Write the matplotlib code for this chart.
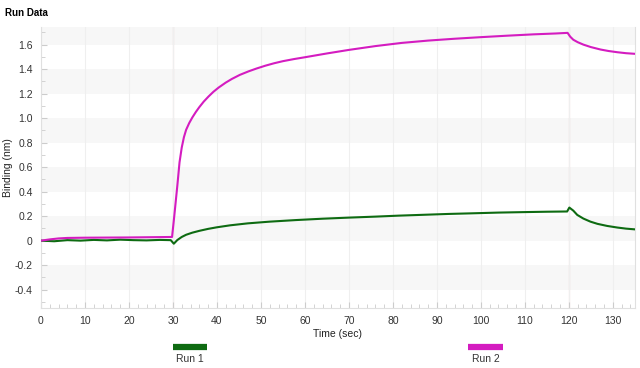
import matplotlib
matplotlib.use("Agg")
import matplotlib.pyplot as plt
from matplotlib.lines import Line2D
from matplotlib.ticker import MultipleLocator, FuncFormatter

plt.rcParams['font.family'] = ['Liberation Sans', 'DejaVu Sans']

# Run 1 (green)
run1_time = [0, 3, 6, 9, 12, 15, 18, 21, 24, 27, 29.5, 30.2, 31, 32, 33, 34.4, 36,
             38, 40, 43, 47, 52, 58, 64, 70, 76, 81.3, 87, 92.7, 98, 104, 110,
             115, 119.6, 120.1, 121, 121.9, 123.3, 124.9, 126.5, 128.7, 131, 133, 135]
run1_vals = [0.0, -0.005, 0.004, 0.0, 0.006, 0.002, 0.008, 0.004, 0.002, 0.006, 0.004, -0.025, 0.005, 0.03, 0.048, 0.065, 0.08,
             0.096, 0.109, 0.125, 0.141, 0.155, 0.168, 0.179, 0.188, 0.196, 0.204, 0.211, 0.218, 0.223, 0.229, 0.233,
             0.236, 0.238, 0.27, 0.245, 0.21, 0.18, 0.155, 0.137, 0.12, 0.107, 0.098, 0.092]

# Run 2 (magenta)
run2_time = [0, 2, 4, 6, 10, 15, 20, 25, 29.8, 30.3, 31, 31.5, 32, 32.5, 33, 33.7, 34.4,
             35.2, 36, 37, 38.1, 39.2, 40.4, 42, 43.4, 45.2, 47.2, 49, 51, 53, 55, 57.5, 60,
             65, 70, 76, 82, 88, 94, 100, 106, 112, 117, 119.7,
             120.3, 121, 122, 123.3, 125, 127.2, 129, 131, 133, 135]
run2_vals = [0.0, 0.01, 0.018, 0.022, 0.024, 0.025, 0.026, 0.028, 0.03, 0.2, 0.45, 0.64, 0.76, 0.845, 0.905, 0.96, 1.005,
             1.05, 1.09, 1.135, 1.177, 1.215, 1.25, 1.29, 1.32, 1.353, 1.382, 1.405, 1.428, 1.448, 1.465, 1.482, 1.497,
             1.528, 1.557, 1.588, 1.614, 1.633, 1.648, 1.661, 1.673, 1.684, 1.691, 1.696,
             1.665, 1.64, 1.62, 1.60, 1.58, 1.56, 1.548, 1.538, 1.53, 1.525]

event_times = [30, 120]
run_labels = ['Run 1', 'Run 2']
run_colors = ['#0e6b12', '#d41cc0']

fig = plt.figure(figsize=(6.4, 3.68), dpi=100)
ax = fig.add_axes([0.064, 0.163, 0.928, 0.764])

ax.set_xlim(0, 135)
ax.set_ylim(-0.55, 1.745)

# alternating background bands
yt = [-0.4 + 0.2 * i for i in range(12)]
for i, lo in enumerate(yt):
    if i % 2 == 0:
        ax.axhspan(lo, lo + 0.2, color='#f7f7f7', lw=0, zorder=0)

ax.xaxis.set_major_locator(MultipleLocator(10))
ax.xaxis.set_minor_locator(MultipleLocator(2))
ax.yaxis.set_major_locator(MultipleLocator(0.2))
ax.yaxis.set_minor_locator(MultipleLocator(0.1))
ax.yaxis.set_major_formatter(FuncFormatter(lambda v, p: '0' if abs(v) < 1e-9 else f'{v:.1f}'))
ax.grid(axis='x', which='major', color='#efefef', lw=0.8, zorder=0)

for t in event_times:
    ax.axvline(t, color='#e2a6a6', lw=0.8, zorder=1)

ax.plot(run1_time, run1_vals, color=run_colors[0], lw=1.5, zorder=3)
ax.plot(run2_time, run2_vals, color=run_colors[1], lw=1.5, zorder=3)

ax.spines['top'].set_visible(False)
for s in ['left', 'bottom', 'right']:
    ax.spines[s].set_color('#e0e0e0')
    ax.spines[s].set_linewidth(0.8)

ax.tick_params(axis='both', which='both', direction='in', color='#cccccc', labelcolor='#333333',
               labelsize=7.5)
ax.tick_params(axis='both', which='major', length=4, pad=6)
ax.tick_params(axis='both', which='minor', length=3)

ax.set_xlabel('Time (sec)', fontsize=7.5, color='#222222', labelpad=2)
ax.set_ylabel('Binding (nm)', fontsize=7.5, color='#222222')
ax.yaxis.set_label_coords(-0.047, 0.5)

fig.text(0.008, 0.977, 'Run Data', fontsize=7, fontweight='bold', va='top', ha='left')

# legend under the axis
legend_x = [0.297, 0.759]
for x, lab, col in zip(legend_x, run_labels, run_colors):
    fig.add_artist(Line2D([x - 0.027, x + 0.027], [0.058, 0.058], color=col, lw=4.5,
                          solid_capstyle='butt', transform=fig.transFigure))
    fig.text(x, 0.024, lab, fontsize=7.5, color='#333333', ha='center', va='center')

fig.savefig('out.png', dpi=100)
